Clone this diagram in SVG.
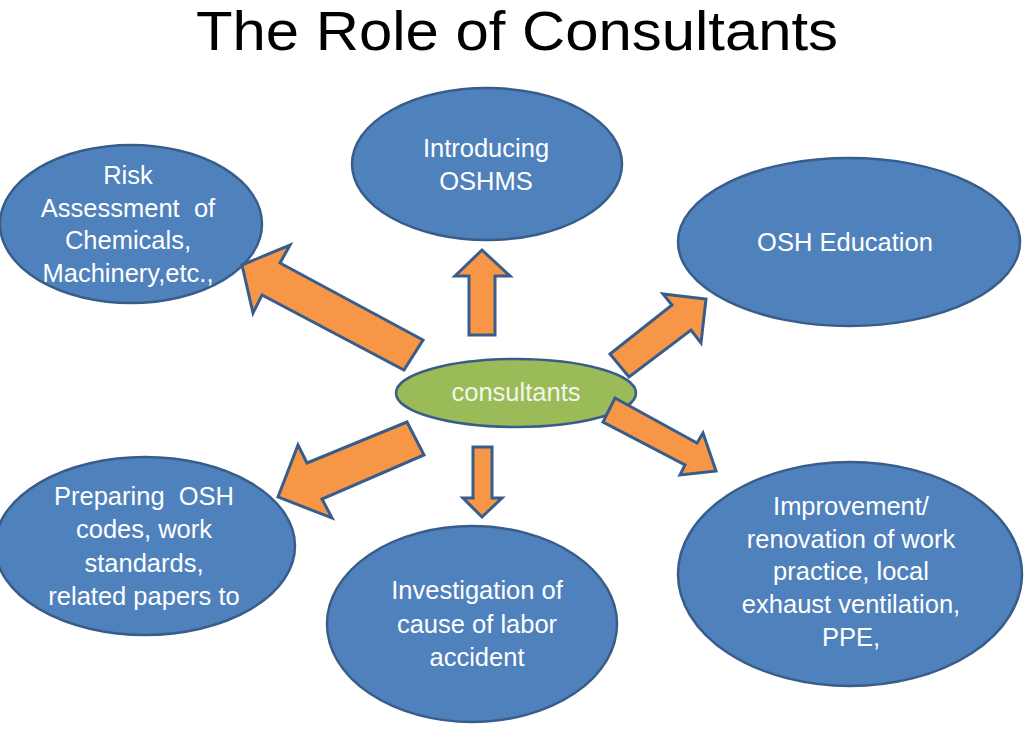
<svg xmlns="http://www.w3.org/2000/svg" width="1024" height="741" viewBox="0 0 1024 741">
<style>
.node{fill:#4F81BD;stroke:#385D8A;stroke-width:2.5}
.center{fill:#9BBB59;stroke:#385D8A;stroke-width:2.5}
.lbl{font-family:"Liberation Sans",Arial,sans-serif;font-size:25.5px;fill:#FFFFFF;text-anchor:middle;white-space:pre}
.arrow{fill:#F79646;stroke:#385D8A;stroke-width:3;stroke-linejoin:miter}
</style>
<rect width="1024" height="741" fill="#FFFFFF"/>
<text x="517" y="50" font-family="Liberation Sans, Arial, sans-serif" font-size="55" fill="#000000" text-anchor="middle" textLength="642" lengthAdjust="spacingAndGlyphs">The Role of Consultants</text>
<g id="node-risk">
<ellipse class="node" cx="131" cy="224" rx="131" ry="79"/>
<text class="lbl" x="128" y="184">Risk</text>
<text class="lbl" x="128" y="216.5">Assessment  of</text>
<text class="lbl" x="128" y="249">Chemicals,</text>
<text class="lbl" x="128" y="281.5">Machinery,etc.,</text>
</g>
<g id="node-oshms">
<ellipse class="node" cx="487" cy="164" rx="135" ry="76"/>
<text class="lbl" x="486" y="157">Introducing</text>
<text class="lbl" x="486" y="190">OSHMS</text>
</g>
<g id="node-education">
<ellipse class="node" cx="849" cy="242" rx="171" ry="84"/>
<text class="lbl" x="845" y="251">OSH Education</text>
</g>
<g id="node-preparing">
<ellipse class="node" cx="145" cy="546" rx="150" ry="89"/>
<text class="lbl" x="144" y="505">Preparing  OSH</text>
<text class="lbl" x="144" y="538">codes, work</text>
<text class="lbl" x="144" y="571.5">standards,</text>
<text class="lbl" x="144" y="605">related papers to</text>
</g>
<g id="node-investigation">
<ellipse class="node" cx="472" cy="624" rx="145" ry="98"/>
<text class="lbl" x="477" y="599">Investigation of</text>
<text class="lbl" x="477" y="632.5">cause of labor</text>
<text class="lbl" x="477" y="666">accident</text>
</g>
<g id="node-improvement">
<ellipse class="node" cx="850" cy="574" rx="172" ry="112"/>
<text class="lbl" x="851" y="515">Improvement/</text>
<text class="lbl" x="851" y="547.5">renovation of work</text>
<text class="lbl" x="851" y="580">practice, local</text>
<text class="lbl" x="851" y="613">exhaust ventilation,</text>
<text class="lbl" x="851" y="646">PPE,</text>
</g>
<g id="node-consultants">
<ellipse class="center" cx="516" cy="393" rx="120" ry="34"/>
<text class="lbl" x="516" y="401" style="fill:#F2F6E8">consultants</text>
</g>
<g id="connectors">
<polygon class="arrow" points="242,265 290,245 280,263 423,340 404,370 262,295 253,313"/>
<polygon class="arrow" points="482,250 510,276 495,276 495,335 469,335 469,276 455,276"/>
<polygon class="arrow" points="706,299 701,343 691,330 629,377 610,354 672,305 663,294"/>
<polygon class="arrow" points="278,497 298,445 307,463 407,422 424,455 322,499 332,518"/>
<polygon class="arrow" points="716,471 680,475 685,465 603,422 615,398 697,443 703,433"/>
<polygon class="arrow" points="482,517 502,498 492,498 492,447 473,447 473,498 463,498"/>
</g>
</svg>
